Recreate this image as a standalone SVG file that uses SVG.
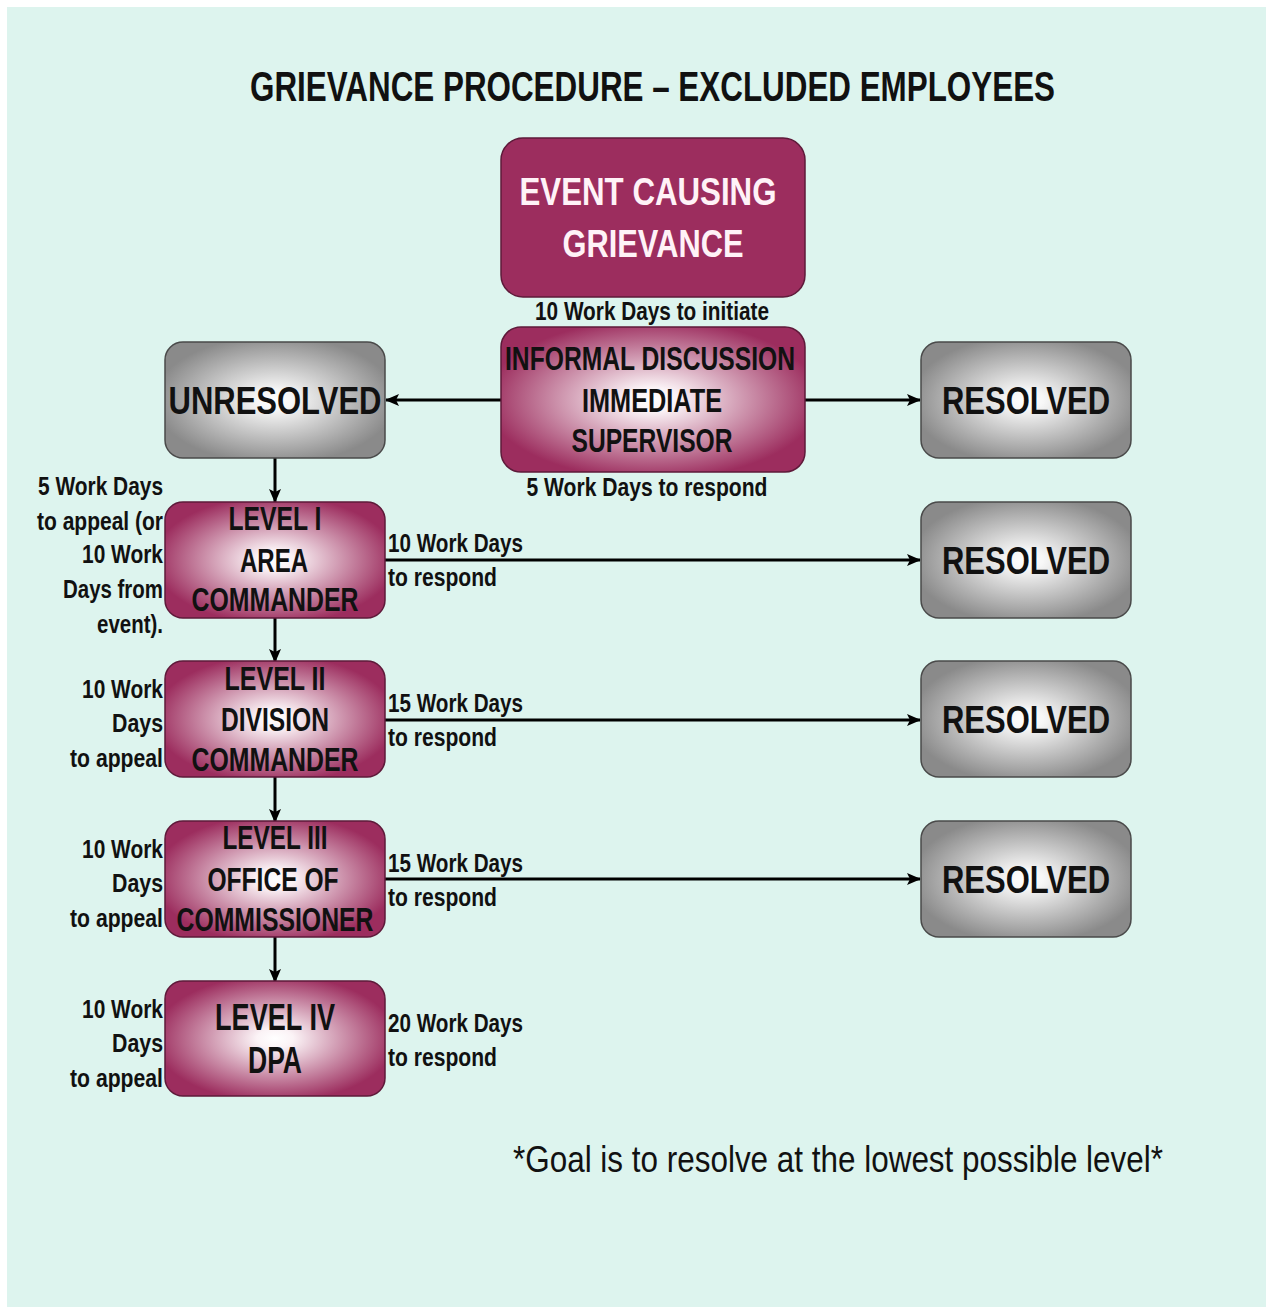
<svg xmlns="http://www.w3.org/2000/svg" width="1266" height="1307" viewBox="0 0 1266 1307">
<style>
.t{font-family:"Liberation Sans Narrow","Liberation Sans",Arial,sans-serif;}
.nb{font-weight:bold;fill:#111;text-anchor:middle;}
.lb{fill:#111;font-size:26px;font-weight:bold;}
.lbl-r{text-anchor:start;}
.lbl-l{text-anchor:end;}
.maroon{fill:#9C2D5E;stroke:#5E1A3A;stroke-width:1.5;}
.mgrad{fill:url(#mg);stroke:#5E1A3A;stroke-width:1.5;}
.ggrad{fill:url(#gg);stroke:#4A4A4A;stroke-width:1.5;}
.conn{stroke:#000;stroke-width:3;fill:none;marker-end:url(#ah);}
</style>
<defs>
<radialGradient id="mg" cx="50%" cy="50%" r="55%">
<stop offset="0" stop-color="#ffffff"/>
<stop offset="0.15" stop-color="#fbf3f6"/>
<stop offset="1" stop-color="#9C2D5E"/>
</radialGradient>
<radialGradient id="gg" cx="50%" cy="50%" r="55%">
<stop offset="0" stop-color="#ffffff"/>
<stop offset="0.15" stop-color="#f7f7f7"/>
<stop offset="1" stop-color="#8A8A8A"/>
</radialGradient>
<marker id="ah" viewBox="0 0 14 12" refX="13" refY="6" markerWidth="14" markerHeight="12" markerUnits="userSpaceOnUse" orient="auto">
<path d="M0,0 L14,6 L0,12 L3,6 z" fill="#000"/>
</marker>
</defs>
<rect x="0" y="0" width="1266" height="1307" fill="#ffffff"/>
<rect x="7" y="7" width="1259" height="1300" fill="#DDF4EE"/>

<text class="t" x="250" y="101" font-size="42" font-weight="bold" fill="#111" textLength="805" lengthAdjust="spacingAndGlyphs">GRIEVANCE PROCEDURE – EXCLUDED EMPLOYEES</text>

<g id="connectors">
<line class="conn" x1="501" y1="400" x2="386" y2="400"/>
<line class="conn" x1="805" y1="400" x2="920" y2="400"/>
<line class="conn" x1="385" y1="560" x2="920" y2="560"/>
<line class="conn" x1="385" y1="720" x2="920" y2="720"/>
<line class="conn" x1="385" y1="879" x2="920" y2="879"/>
<line class="conn" x1="275" y1="458" x2="275" y2="502"/>
<line class="conn" x1="275" y1="618" x2="275" y2="662"/>
<line class="conn" x1="275" y1="777" x2="275" y2="822"/>
<line class="conn" x1="275" y1="937" x2="275" y2="982"/>
</g>

<g id="event">
<rect class="maroon" x="501" y="138" width="304" height="159" rx="22"/>
<text class="t" x="648" y="205" font-size="39" font-weight="bold" fill="#FFF2F7" text-anchor="middle" textLength="257" lengthAdjust="spacingAndGlyphs">EVENT CAUSING</text>
<text class="t" x="653" y="257" font-size="39" font-weight="bold" fill="#FFF2F7" text-anchor="middle" textLength="181" lengthAdjust="spacingAndGlyphs">GRIEVANCE</text>
</g>

<text class="t lb" x="652" y="320" text-anchor="middle" textLength="234" lengthAdjust="spacingAndGlyphs">10 Work Days to initiate</text>

<g id="informal">
<rect class="mgrad" x="501" y="327" width="304" height="145" rx="20"/>
<text class="t nb" x="650" y="370" font-size="33" textLength="290" lengthAdjust="spacingAndGlyphs">INFORMAL DISCUSSION</text>
<text class="t nb" x="652" y="412" font-size="33" textLength="140" lengthAdjust="spacingAndGlyphs">IMMEDIATE</text>
<text class="t nb" x="652" y="452" font-size="33" textLength="161" lengthAdjust="spacingAndGlyphs">SUPERVISOR</text>
</g>

<text class="t lb" x="647" y="496" text-anchor="middle" textLength="241" lengthAdjust="spacingAndGlyphs">5 Work Days to respond</text>

<g id="unresolved">
<rect class="ggrad" x="165" y="342" width="220" height="116" rx="18"/>
<text class="t nb" x="275" y="414" font-size="39" textLength="213" lengthAdjust="spacingAndGlyphs">UNRESOLVED</text>
</g>

<g id="resolved1">
<rect class="ggrad" x="921" y="342" width="210" height="116" rx="18"/>
<text class="t nb" x="1026" y="414" font-size="39" textLength="168" lengthAdjust="spacingAndGlyphs">RESOLVED</text>
</g>
<g id="resolved2">
<rect class="ggrad" x="921" y="502" width="210" height="116" rx="18"/>
<text class="t nb" x="1026" y="574" font-size="39" textLength="168" lengthAdjust="spacingAndGlyphs">RESOLVED</text>
</g>
<g id="resolved3">
<rect class="ggrad" x="921" y="661" width="210" height="116" rx="18"/>
<text class="t nb" x="1026" y="733" font-size="39" textLength="168" lengthAdjust="spacingAndGlyphs">RESOLVED</text>
</g>
<g id="resolved4">
<rect class="ggrad" x="921" y="821" width="210" height="116" rx="18"/>
<text class="t nb" x="1026" y="893" font-size="39" textLength="168" lengthAdjust="spacingAndGlyphs">RESOLVED</text>
</g>

<g id="level1">
<rect class="mgrad" x="165" y="502" width="220" height="116" rx="18"/>
<text class="t nb" x="275" y="530" font-size="34" textLength="93" lengthAdjust="spacingAndGlyphs">LEVEL I</text>
<text class="t nb" x="274" y="572" font-size="34" textLength="68" lengthAdjust="spacingAndGlyphs">AREA</text>
<text class="t nb" x="275" y="611" font-size="34" textLength="167" lengthAdjust="spacingAndGlyphs">COMMANDER</text>
</g>
<g id="level2">
<rect class="mgrad" x="165" y="661" width="220" height="116" rx="18"/>
<text class="t nb" x="275" y="690" font-size="34" textLength="101" lengthAdjust="spacingAndGlyphs">LEVEL II</text>
<text class="t nb" x="275" y="731" font-size="34" textLength="108" lengthAdjust="spacingAndGlyphs">DIVISION</text>
<text class="t nb" x="275" y="771" font-size="34" textLength="167" lengthAdjust="spacingAndGlyphs">COMMANDER</text>
</g>
<g id="level3">
<rect class="mgrad" x="165" y="821" width="220" height="116" rx="18"/>
<text class="t nb" x="275" y="849" font-size="34" textLength="105" lengthAdjust="spacingAndGlyphs">LEVEL III</text>
<text class="t nb" x="273" y="891" font-size="34" textLength="131" lengthAdjust="spacingAndGlyphs">OFFICE OF</text>
<text class="t nb" x="275" y="931" font-size="34" textLength="197" lengthAdjust="spacingAndGlyphs">COMMISSIONER</text>
</g>
<g id="level4">
<rect class="mgrad" x="165" y="981" width="220" height="115" rx="18"/>
<text class="t nb" x="275" y="1030" font-size="37" textLength="120" lengthAdjust="spacingAndGlyphs">LEVEL IV</text>
<text class="t nb" x="275" y="1073" font-size="37" textLength="54" lengthAdjust="spacingAndGlyphs">DPA</text>
</g>

<g id="labels-right">
<text class="t lb lbl-r" x="388" y="552" textLength="135" lengthAdjust="spacingAndGlyphs">10 Work Days</text>
<text class="t lb lbl-r" x="388" y="586" textLength="109" lengthAdjust="spacingAndGlyphs">to respond</text>
<text class="t lb lbl-r" x="388" y="712" textLength="135" lengthAdjust="spacingAndGlyphs">15 Work Days</text>
<text class="t lb lbl-r" x="388" y="746" textLength="109" lengthAdjust="spacingAndGlyphs">to respond</text>
<text class="t lb lbl-r" x="388" y="872" textLength="135" lengthAdjust="spacingAndGlyphs">15 Work Days</text>
<text class="t lb lbl-r" x="388" y="906" textLength="109" lengthAdjust="spacingAndGlyphs">to respond</text>
<text class="t lb lbl-r" x="388" y="1032" textLength="135" lengthAdjust="spacingAndGlyphs">20 Work Days</text>
<text class="t lb lbl-r" x="388" y="1066" textLength="109" lengthAdjust="spacingAndGlyphs">to respond</text>
</g>

<g id="labels-left">
<text class="t lb lbl-l" x="163" y="495" textLength="125" lengthAdjust="spacingAndGlyphs">5 Work Days</text>
<text class="t lb lbl-l" x="163" y="530" textLength="126" lengthAdjust="spacingAndGlyphs">to appeal (or</text>
<text class="t lb lbl-l" x="163" y="563" textLength="81" lengthAdjust="spacingAndGlyphs">10 Work</text>
<text class="t lb lbl-l" x="163" y="598" textLength="100" lengthAdjust="spacingAndGlyphs">Days from</text>
<text class="t lb lbl-l" x="163" y="633" textLength="66" lengthAdjust="spacingAndGlyphs">event).</text>
<text class="t lb lbl-l" x="163" y="698" textLength="81" lengthAdjust="spacingAndGlyphs">10 Work</text>
<text class="t lb lbl-l" x="163" y="732" textLength="51" lengthAdjust="spacingAndGlyphs">Days</text>
<text class="t lb lbl-l" x="163" y="767" textLength="93" lengthAdjust="spacingAndGlyphs">to appeal</text>
<text class="t lb lbl-l" x="163" y="858" textLength="81" lengthAdjust="spacingAndGlyphs">10 Work</text>
<text class="t lb lbl-l" x="163" y="892" textLength="51" lengthAdjust="spacingAndGlyphs">Days</text>
<text class="t lb lbl-l" x="163" y="927" textLength="93" lengthAdjust="spacingAndGlyphs">to appeal</text>
<text class="t lb lbl-l" x="163" y="1018" textLength="81" lengthAdjust="spacingAndGlyphs">10 Work</text>
<text class="t lb lbl-l" x="163" y="1052" textLength="51" lengthAdjust="spacingAndGlyphs">Days</text>
<text class="t lb lbl-l" x="163" y="1087" textLength="93" lengthAdjust="spacingAndGlyphs">to appeal</text>
</g>

<text class="t" x="513" y="1172" font-size="37" fill="#111" textLength="650" lengthAdjust="spacingAndGlyphs">*Goal is to resolve at the lowest possible level*</text>
</svg>
